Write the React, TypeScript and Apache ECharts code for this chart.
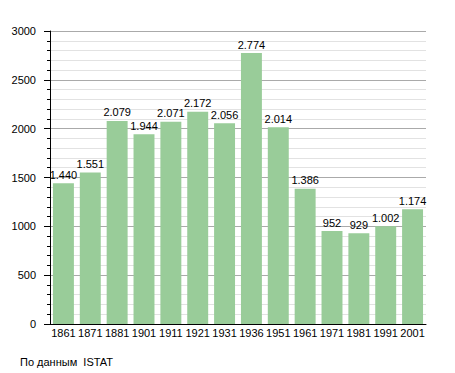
import React, { useEffect, useRef } from "react";
import * as echarts from "echarts";

const categories = ["1861", "1871", "1881", "1901", "1911", "1921", "1931", "1936", "1951", "1961", "1971", "1981", "1991", "2001"];
const population = [1440, 1551, 2079, 1944, 2071, 2172, 2056, 2774, 2014, 1386, 952, 929, 1002, 1174];
const yTicks = { min: 0, max: 3000, interval: 500 };
const footer = "По данным  ISTAT";

const fmt = (v: number) => v >= 1000 ? `${Math.floor(v / 1000)}.${String(v % 1000).padStart(3, "0")}` : String(v);

export default function App() {
  const ref = useRef<HTMLDivElement>(null);
  useEffect(() => {
    const chart = echarts.init(ref.current!, null, { renderer: "svg" });
    const font = "'Liberation Sans', Arial, sans-serif";
    chart.setOption({
      animation: false,
      textStyle: { fontFamily: font },
      grid: { left: 50, right: 29, top: 31, bottom: 49 },
      xAxis: {
        type: "category",
        data: categories,
        axisLine: { lineStyle: { color: "#000", width: 1 } },
        axisTick: { show: false },
        axisLabel: { color: "#000", fontSize: 11, margin: 3, interval: 0, fontFamily: font },
      },
      yAxis: {
        type: "value",
        min: yTicks.min,
        max: yTicks.max,
        interval: yTicks.interval,
        axisLine: { show: true, lineStyle: { color: "#000", width: 1 } },
        axisTick: { show: true, length: 6, lineStyle: { color: "#000" } },
        minorTick: { show: true, splitNumber: 5, length: 3, lineStyle: { color: "#000" } },
        splitLine: { show: true, lineStyle: { color: "#aaa", width: 1 } },
        minorSplitLine: { show: true, lineStyle: { color: "#e2e2e2", width: 1 } },
        axisLabel: { color: "#000", fontSize: 11, margin: 14, fontFamily: font, formatter: (v: number) => String(v) },
      },
      series: [
        {
          type: "bar",
          data: population,
          barWidth: "78%",
          itemStyle: { color: "#99cc99" },
          label: {
            show: true,
            position: "top",
            distance: 3,
            color: "#000",
            fontSize: 11,
            fontFamily: font,
            formatter: (p: any) => fmt(p.value),
          },
        },
      ],
      graphic: [
        {
          type: "text",
          left: 20,
          top: 356,
          style: { text: footer, fill: "#000", fontSize: 11, fontFamily: font },
        },
      ],
    });
    return () => chart.dispose();
  }, []);
  return <div ref={ref} style={{ width: 455, height: 373, position: "absolute", left: 0, top: 0 }} />;
}
